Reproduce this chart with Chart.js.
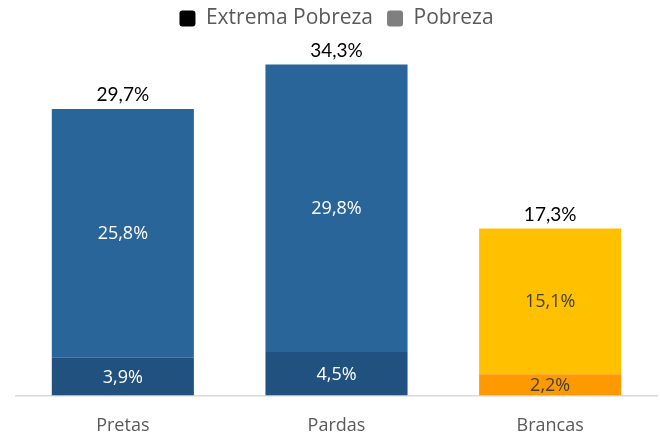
<!DOCTYPE html>
<html>
<head>
<meta charset="utf-8">
<script src="https://cdn.jsdelivr.net/npm/chart.js@4"></script>
<style>
  html, body { margin: 0; padding: 0; background: #fff; }
  #wrap { width: 660px; height: 436px; }
</style>
</head>
<body>
<div id="wrap"><canvas id="povertyChart" width="660" height="436"></canvas></div>
<script>
const categories = ['Pretas', 'Pardas', 'Brancas'];
const extremaPobreza = [3.9, 4.5, 2.2];
const pobreza = [25.8, 29.8, 15.1];
const totals = [29.7, 34.3, 17.3];

const extremaColors = ['#21517F', '#21517F', '#FF9900'];
const pobrezaColors = ['#2A6599', '#2A6599', '#FFC000'];
const innerLabelColors = ['#FFFFFF', '#FFFFFF', '#404040'];

function fmt(v) {
    return v.toFixed(1).replace('.', ',') + '%';
}

// numbers inside the segments + totals on top of each stack
const barLabels = {
    id: 'barLabels',
    afterDatasetsDraw(chart) {
        const ctx = chart.ctx;
        ctx.save();
        ctx.textAlign = 'center';
        ctx.textBaseline = 'middle';
        ctx.font = '18px "Open Sans"';
        chart.data.datasets.forEach((ds, di) => {
            const meta = chart.getDatasetMeta(di);
            meta.data.forEach((bar, i) => {
                ctx.fillStyle = innerLabelColors[i];
                ctx.fillText(fmt(ds.data[i]), bar.x, (bar.y + bar.base) / 2 + 1);
            });
        });
        const topMeta = chart.getDatasetMeta(1);
        ctx.fillStyle = '#000000';
        ctx.font = '19px Lato';
        topMeta.data.forEach((bar, i) => {
            ctx.fillText(fmt(totals[i]), bar.x, bar.y - 14);
        });
        ctx.restore();
    }
};

const ctx = document.getElementById('povertyChart').getContext('2d');
new Chart(ctx, {
    type: 'bar',
    data: {
        labels: categories,
        datasets: [
            {
                label: 'Extrema Pobreza',
                data: extremaPobreza,
                backgroundColor: extremaColors,
                barPercentage: 0.665,
                categoryPercentage: 1
            },
            {
                label: 'Pobreza',
                data: pobreza,
                backgroundColor: pobrezaColors,
                barPercentage: 0.665,
                categoryPercentage: 1
            }
        ]
    },
    options: {
        responsive: false,
        animation: false,
        layout: { padding: { left: 16, right: 3, top: -6, bottom: -21 } },
        plugins: {
            tooltip: { enabled: false },
            legend: {
                position: 'top',
                labels: {
                    font: { family: '"Open Sans"', size: 21 },
                    color: '#595959',
                    boxWidth: 16,
                    boxHeight: 16,
                    padding: 14,
                    useBorderRadius: true,
                    borderRadius: 3,
                    generateLabels: () => [
                        { text: 'Extrema Pobreza', fillStyle: '#000000', strokeStyle: '#000000', fontColor: '#595959', lineWidth: 0, borderRadius: 3, datasetIndex: 0 },
                        { text: 'Pobreza', fillStyle: '#7F7F7F', strokeStyle: '#7F7F7F', fontColor: '#595959', lineWidth: 0, borderRadius: 3, datasetIndex: 1 }
                    ]
                }
            }
        },
        scales: {
            x: {
                stacked: true,
                grid: { display: false, drawTicks: false },
                border: { display: true, color: '#D9D9D9', width: 1.5 },
                ticks: {
                    font: { family: '"Open Sans"', size: 18 },
                    color: '#595959',
                    padding: 20
                }
            },
            y: {
                stacked: true,
                display: false,
                min: 0,
                max: 36.95
            }
        }
    },
    plugins: [barLabels]
});
</script>
</body>
</html>
